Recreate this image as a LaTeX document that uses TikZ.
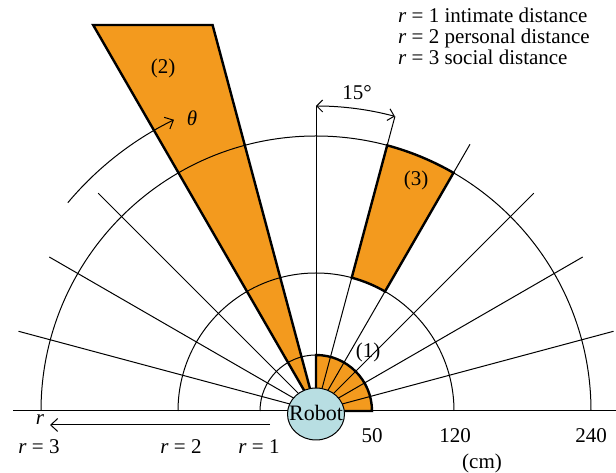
\documentclass[tikz,border=0pt]{standalone}
\usepackage{fontspec}
\setmainfont{Liberation Serif}
\usetikzlibrary{arrows.meta,shapes.geometric}
\definecolor{sectorfill}{RGB}{243,154,30}
\definecolor{robotfill}{RGB}{184,222,226}
\begin{document}
\begin{tikzpicture}[x=1pt,y=1pt,
  thinline/.style={line width=1pt},
  thickline/.style={line width=2.4pt, line join=miter},
  sector/.style={fill=sectorfill},
  lbl/.style={font=\fontsize{21}{25}\selectfont, inner sep=0pt},
  barb/.style={-{Straight Barb[length=7pt,width=13pt,line width=1pt]}},
  barbs/.style={{Straight Barb[length=6pt,width=12pt,line width=1pt]}-{Straight Barb[length=6pt,width=12pt,line width=1pt]}}]
\useasboundingbox (0,0) rectangle (616,473);
\begin{scope}[shift={(316,62)}]
  \coordinate (O) at (0,0);
  % fills
  \fill[sector] (O) -- (56,0) arc[start angle=0,end angle=90,radius=56] -- cycle;
  \fill[sector] (O) -- (105:399.6) -- (120:445.7) -- cycle;
  \fill[sector] (60:138) -- (60:275) arc[start angle=60,end angle=75,radius=275] -- (75:138) arc[start angle=75,end angle=60,radius=138] -- cycle;
  % baseline
  \coordinate (bl) at (-303,0);
  \coordinate (br) at (300,0);
  \draw[thinline] (bl) -- (br);
  % arcs
  \draw[thinline] (56,0) arc[start angle=0,end angle=180,radius=56];
  \draw[thinline] (138,0) arc[start angle=0,end angle=180,radius=138];
  \draw[thinline] (275,0) arc[start angle=0,end angle=180,radius=275];
  % rays
  \foreach \a in {15,30,45,60,135,150,165} {
    \draw[thinline] (O) -- (\a:308);
  }
  \draw[thinline] (O) -- (75:305);
  \draw[thinline] (O) -- (90:305);
  % thick outlines
  \draw[thickline] (O) -- (56,0) arc[start angle=0,end angle=90,radius=56] -- cycle;
  \draw[thickline] (O) -- (105:399.6) -- (120:445.7) -- cycle;
  \draw[thickline] (60:138) -- (60:275) arc[start angle=60,end angle=75,radius=275] -- (75:138) arc[start angle=75,end angle=60,radius=138] -- cycle;
  % angle arrows
  \draw[thinline,barb] (140:324) arc[start angle=140,end angle=116,radius=324];
  \draw[thinline,barbs] (90:305) arc[start angle=90,end angle=75,radius=305];
  % robot
  \node[draw, thinline, fill=robotfill, ellipse, minimum width=57pt, minimum height=52pt, inner sep=0pt] (robot) at (0,-3) {};
  \node[lbl, font=\fontsize{22}{26}\selectfont] (robottext) at (0,-2) {Robot};
  % r arrow
  \node[lbl] (rlab) at (-276,-9) {\textit{r}};
  \coordinate (rstart) at (-46,-14);
  \coordinate (rend) at (-266,-14);
  \draw[thinline,barb] (rstart) -- (rend);
  % labels
  \node[lbl] (r3) at (-277,-36) {\textit{r} = 3};
  \node[lbl] (r2) at (-135,-36) {\textit{r} = 2};
  \node[lbl] (r1) at (-57,-36) {\textit{r} = 1};
  \node[lbl] (d50) at (56,-25) {50};
  \node[lbl] (d120) at (139,-25) {120};
  \node[lbl] (d240) at (275,-25) {240};
  \node[lbl] (cm) at (166,-52) {(cm)};
  \node[lbl] (s1) at (52,59) {(1)};
  \node[lbl] (s2) at (-153,343) {(2)};
  \node[lbl] (s3) at (100,231) {(3)};
  \node[lbl] (theta) at (-124,293) {\textit{θ}};
  \node[lbl] (deg) at (41,318) {15°};
  \node[lbl, anchor=north west, align=left, font=\fontsize{21}{21}\selectfont] (legend) at (82,403)
    {\textit{r} = 1 intimate distance\\ \textit{r} = 2 personal distance\\ \textit{r} = 3 social distance};
\end{scope}
\end{tikzpicture}
\end{document}
